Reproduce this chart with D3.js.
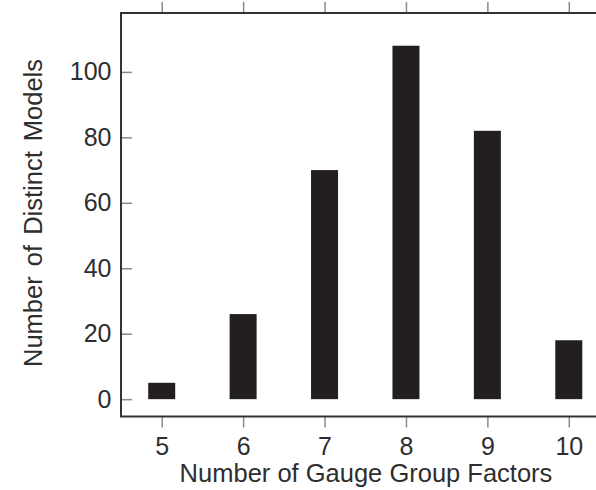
<!DOCTYPE html>
<html>
<head>
<meta charset="utf-8">
<script src="https://cdn.jsdelivr.net/npm/d3@7"></script>
<style>
  body { margin: 0; background: #fff; }
  text { font-family: "Liberation Sans", Arial, sans-serif; fill: #2e2e2e; }
</style>
</head>
<body>
<div id="viz"></div>
<script>
const factors = [5, 6, 7, 8, 9, 10];
const models = [5, 26, 70, 108, 82, 18];
const yTicks = [0, 20, 40, 60, 80, 100];

const width = 596, height = 490;
const plotLeft = 121, plotTop = 13, plotBottom = 416.5;
const fontFam = "Liberation Sans, Arial, sans-serif";

const svg = d3.select("#viz").append("svg")
    .attr("width", width)
    .attr("height", height);

// x runs past the right edge of the picture, like the original crop
const x = d3.scaleLinear().domain([4.5, 10.5]).range([plotLeft, 609.5]);
const y = d3.scaleLinear().domain([-5.3, 118]).range([plotBottom, plotTop]);

const barW = 27;

svg.selectAll("rect.bar")
    .data(factors)
    .enter().append("rect")
    .attr("class", "bar")
    .attr("x", (d) => x(d) - barW / 2)
    .attr("y", (d, i) => y(models[i]))
    .attr("width", barW)
    .attr("height", (d, i) => y(0) - y(models[i]))
    .attr("fill", "#231f20");

// bottom axis, ticks outward
const xAxis = svg.append("g")
    .attr("transform", `translate(0,${plotBottom})`)
    .call(d3.axisBottom(x).tickValues(factors).tickFormat(d3.format("d")).tickSize(11).tickPadding(9.5));
xAxis.select(".domain").remove();
xAxis.selectAll(".tick line").attr("stroke", "#8a8a8a").attr("stroke-width", 1.5);
xAxis.selectAll(".tick text").style("font-size", "25px").style("font-family", fontFam).attr("fill", "#2e2e2e");

// top axis, ticks outward, no labels
const xTop = svg.append("g")
    .attr("transform", `translate(0,${plotTop})`)
    .call(d3.axisTop(x).tickValues(factors).tickSize(11).tickFormat(""));
xTop.select(".domain").remove();
xTop.selectAll(".tick line").attr("stroke", "#8a8a8a").attr("stroke-width", 1.5);

// left axis, ticks inward
const yAxis = svg.append("g")
    .attr("transform", `translate(${plotLeft},0)`)
    .call(d3.axisLeft(y).tickValues(yTicks).tickSize(-11).tickPadding(9.5));
yAxis.select(".domain").remove();
yAxis.selectAll(".tick line").attr("stroke", "#8a8a8a").attr("stroke-width", 1.5);
yAxis.selectAll(".tick text").style("font-size", "25px").style("font-family", fontFam).attr("fill", "#2e2e2e");

// frame
svg.append("path")
    .attr("d", `M${width + 5},${plotTop}H${plotLeft}V${plotBottom}H${width + 5}`)
    .attr("fill", "none")
    .attr("stroke", "#333")
    .attr("stroke-width", 2);

svg.append("text")
    .attr("x", 366)
    .attr("y", 482)
    .attr("text-anchor", "middle")
    .style("font-size", "25.5px")
    .text("Number of Gauge Group Factors");

svg.append("text")
    .attr("transform", "translate(42,213) rotate(-90)")
    .attr("text-anchor", "middle")
    .style("font-size", "25.5px")
    .style("word-spacing", "3px")
    .text("Number of Distinct Models");
</script>
</body>
</html>
